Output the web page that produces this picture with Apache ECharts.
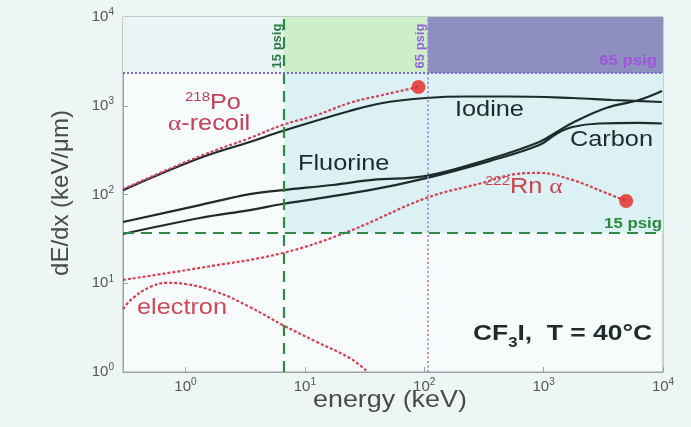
<!DOCTYPE html>
<html><head><meta charset="utf-8">
<script src="https://cdn.jsdelivr.net/npm/echarts/dist/echarts.min.js"></script>
<style>html,body{margin:0;padding:0;background:#eef5f5;}#c{width:691px;height:427px;}</style>
</head><body><div id="c"></div>
<script>
// ---- data (energy in keV, dE/dx in keV/um) ----
const iodineE = [0.3, 1.32, 3.46, 6.5, 23.7, 44.8, 104, 226, 488, 1738, 3750, 9800];
const iodineS = [112, 258, 391, 519, 873, 1075, 1223, 1271, 1271, 1223, 1161, 1102];
const fluorineE = [0.3, 1.32, 3.46, 6.5, 17.1, 36.9, 104, 352, 920, 1276, 1738, 3340, 6310, 9800];
const fluorineS = [49, 76, 101, 112, 128, 146, 162, 251, 391, 503, 640, 944, 1161, 1466];
const carbonE = [0.3, 1.32, 3.46, 6.5, 34.8, 104, 352, 920, 1276, 1738, 2917, 6310, 9800];
const carbonS = [35.9, 54.3, 66.8, 78.2, 112, 153, 238, 361, 481, 576, 631, 640, 631];
const poRecoilE = [0.3, 1.32, 3.46, 6.5, 12.6, 23.7, 44.8, 89.5];
const poRecoilS = [115, 270, 433, 607, 787, 1074, 1322, 1626];
const rnAlphaE = [0.3, 1.32, 6.5, 23.7, 104, 307, 590, 920, 1738, 3340, 4910];
const rnAlphaS = [10.9, 14.9, 21.9, 38.8, 91.3, 135, 170, 175, 146, 104, 84.5];
const electronE = [0.3, 0.364, 0.505, 0.70, 1.0, 1.83, 3.46, 6.5, 12.6, 23.7, 32.9];
const electronS = [5.13, 6.82, 9.07, 10.1, 9.8, 7.97, 5.40, 3.39, 2.18, 1.44, 1.03];
const endPoints = [[89.5, 1626], [4910, 84.5]];
const thr15Energy = 6.7, thr15DEdx = 37;
const thr65Energy = 107, thr65DEdx = 2340;
const xRange = [0.3, 10000], yRange = [1, 10000];

const zip = (a, b) => a.map((v, i) => [v, b[i]]);
const SANS = 'Liberation Sans, Arial, Helvetica, sans-serif';
const RED = '#d2434f';
const BLACK = '#1d2b2b';

function powLabel(v) {
  const e = Math.log10(v);
  const r = Math.round(e);
  if (Math.abs(e - r) > 1e-6) return '';
  return '{b|10}{s|' + r + '}';
}
const tickRich = {
  b: {fontSize: 15, fontFamily: SANS, color: '#555', lineHeight: 15},
  s: {fontSize: 10, fontFamily: SANS, color: '#555', lineHeight: 10, padding: [0, 0, 9, 0]}
};

function txt(x, y, text, o) {
  o = o || {};
  const st = {
    text: text, x: 0, y: 0,
    fill: o.fill || BLACK,
    fontSize: o.size || 22, fontFamily: o.family || SANS, fontWeight: o.weight || 'normal',
    align: o.align || 'left', textAlign: o.align || 'left',
    verticalAlign: o.va || 'top', textVerticalAlign: o.va || 'top'
  };
  if (o.rich) st.rich = o.rich;
  return {type: 'text', x: x, y: y, z: 100, scaleX: o.sx || 1, scaleY: o.sy || 1, rotation: o.rot || 0, silent: true, style: st};
}
const supRich = (col, big, small) => ({
  s: {fontSize: small, fontFamily: SANS, fill: col, color: col, lineHeight: small, padding: [0, 0, 12, 0]},
  b: {fontSize: big, fontFamily: SANS, fill: col, color: col, lineHeight: big},
  g: {fontSize: big, fontFamily: 'Liberation Serif, serif', fill: col, color: col, lineHeight: big}
});

const chart = echarts.init(document.getElementById('c'), null, {renderer: 'canvas'});
chart.setOption({
  backgroundColor: '#eef5f5',
  animation: false,
  grid: {left: 123, right: 28, top: 17, bottom: 55, show: true, backgroundColor: '#f8fbfb', borderColor: '#9aa3a6', borderWidth: 1},
  xAxis: {
    type: 'log', logBase: 10, min: xRange[0], max: xRange[1],
    axisLine: {show: true, lineStyle: {color: '#9aa3a6'}},
    axisTick: {show: true, inside: true, length: 5, lineStyle: {color: '#9aa3a6'}},
    splitLine: {show: false},
    axisLabel: {margin: 7, formatter: powLabel, rich: tickRich}
  },
  yAxis: {
    type: 'log', logBase: 10, min: yRange[0], max: yRange[1],
    axisLine: {show: true, lineStyle: {color: '#9aa3a6'}},
    axisTick: {show: true, inside: true, length: 5, lineStyle: {color: '#9aa3a6'}},
    splitLine: {show: false},
    axisLabel: {margin: 9, formatter: powLabel, rich: tickRich}
  },
  series: [
    {
      type: 'line', name: 'regions', data: [[thr15Energy, thr15DEdx]], symbol: 'none', lineStyle: {opacity: 0}, z: 1, silent: true,
      markArea: {
        silent: true,
        data: [
          [{xAxis: thr15Energy, yAxis: thr15DEdx, itemStyle: {color: '#dcf1f3'}}, {xAxis: xRange[1], yAxis: thr65DEdx}],
          [{xAxis: xRange[0], yAxis: thr65DEdx, itemStyle: {color: '#e9f4f4'}}, {xAxis: thr15Energy, yAxis: yRange[1]}],
          [{xAxis: thr15Energy, yAxis: thr65DEdx, itemStyle: {color: '#cdeec8'}}, {xAxis: thr65Energy, yAxis: yRange[1]}],
          [{xAxis: thr65Energy, yAxis: thr65DEdx, itemStyle: {color: '#8d8fbf'}}, {xAxis: xRange[1], yAxis: yRange[1]}]
        ]
      }
    },
    {
      type: 'line', name: 'thresholds', data: [[thr15Energy, thr15DEdx]], symbol: 'none', lineStyle: {opacity: 0}, z: 5, silent: true,
      markLine: {
        silent: true, symbol: ['none', 'none'], label: {show: false},
        data: [
          {xAxis: thr15Energy, lineStyle: {color: '#2f8a48', width: 2.2, type: [11, 7]}},
          {yAxis: thr15DEdx, lineStyle: {color: '#2f8a48', width: 2.2, type: [11, 7]}},
          {xAxis: thr65Energy, lineStyle: {color: '#a585e6', width: 1.8, type: [2, 2.5]}},
          {yAxis: thr65DEdx, lineStyle: {color: '#7a68d6', width: 2, type: [2, 2]}}
        ]
      }
    },
    {type: 'line', name: 'Carbon', data: zip(carbonE, carbonS), symbol: 'none', smooth: 0.4, lineStyle: {color: BLACK, width: 2.2}, z: 3},
    {type: 'line', name: 'Fluorine', data: zip(fluorineE, fluorineS), symbol: 'none', smooth: 0.4, lineStyle: {color: BLACK, width: 2.2}, z: 3},
    {type: 'line', name: 'Iodine', data: zip(iodineE, iodineS), symbol: 'none', smooth: 0.4, lineStyle: {color: BLACK, width: 2.2}, z: 3},
    {type: 'line', name: 'Po recoil', data: zip(poRecoilE, poRecoilS), symbol: 'none', smooth: 0.4, lineStyle: {color: '#cc4659', width: 2.2, type: [3, 2]}, z: 4},
    {type: 'line', name: 'Rn alpha', data: zip(rnAlphaE, rnAlphaS), symbol: 'none', smooth: 0.4, lineStyle: {color: RED, width: 2.2, type: [3, 2]}, z: 4},
    {type: 'line', name: 'electron', data: zip(electronE, electronS), symbol: 'none', smooth: 0.4, lineStyle: {color: RED, width: 2.2, type: [3, 2]}, z: 4},
    {type: 'scatter', name: 'ends', data: endPoints, symbol: 'circle', symbolSize: 14, itemStyle: {color: '#e5261d'}, z: 6}
  ],
  graphic: [
    txt(185, 92, '{s|218}{b|Po}', {rich: supRich('#c2405a', 22, 13), sx: 1.15}),
    txt(168, 113, '{g|α}{b|-recoil}', {rich: supRich('#c2405a', 22, 13), sx: 1.15}),
    txt(455, 99, 'Iodine', {size: 22, sx: 1.15}),
    txt(298, 153, 'Fluorine', {size: 22, sx: 1.15}),
    txt(570, 129, 'Carbon', {size: 22, sx: 1.15}),
    txt(485, 176, '{s|222}{b|Rn }{g|α}', {rich: supRich('#c9434f', 22, 13), sx: 1.15}),
    txt(137, 297, 'electron', {size: 22, fill: '#cc4a58', sx: 1.15}),
    txt(473, 323, '{m|CF}{u|3}{m|I,  T = 40°C}', {sx: 1.2, rich: {
      m: {fontSize: 22, fontWeight: 'bold', fontFamily: SANS, fill: BLACK, lineHeight: 22},
      u: {fontSize: 14, fontWeight: 'bold', fontFamily: SANS, fill: BLACK, lineHeight: 14, padding: [18, 0, 0, 0]}
    }}),
    txt(277, 46, '15 psig', {size: 13, weight: 'bold', fill: '#2c7a40', align: 'center', va: 'middle', rot: Math.PI / 2}),
    txt(420, 46, '65 psig', {size: 13, weight: 'bold', fill: '#9462d8', align: 'center', va: 'middle', rot: Math.PI / 2}),
    txt(657, 61, '65 psig', {size: 14, weight: 'bold', fill: '#a452e0', align: 'right', va: 'middle', sx: 1.2}),
    txt(662, 224, '15 psig', {size: 14, weight: 'bold', fill: '#2a8a3c', align: 'right', va: 'middle', sx: 1.2}),
    txt(61, 193, 'dE/dx (keV/μm)', {size: 24, fill: '#4a4a4a', align: 'center', va: 'middle', rot: Math.PI / 2}),
    txt(313, 388, 'energy (keV)', {size: 24, fill: '#4a4a4a', sx: 1.12})
  ]
});
</script></body></html>
